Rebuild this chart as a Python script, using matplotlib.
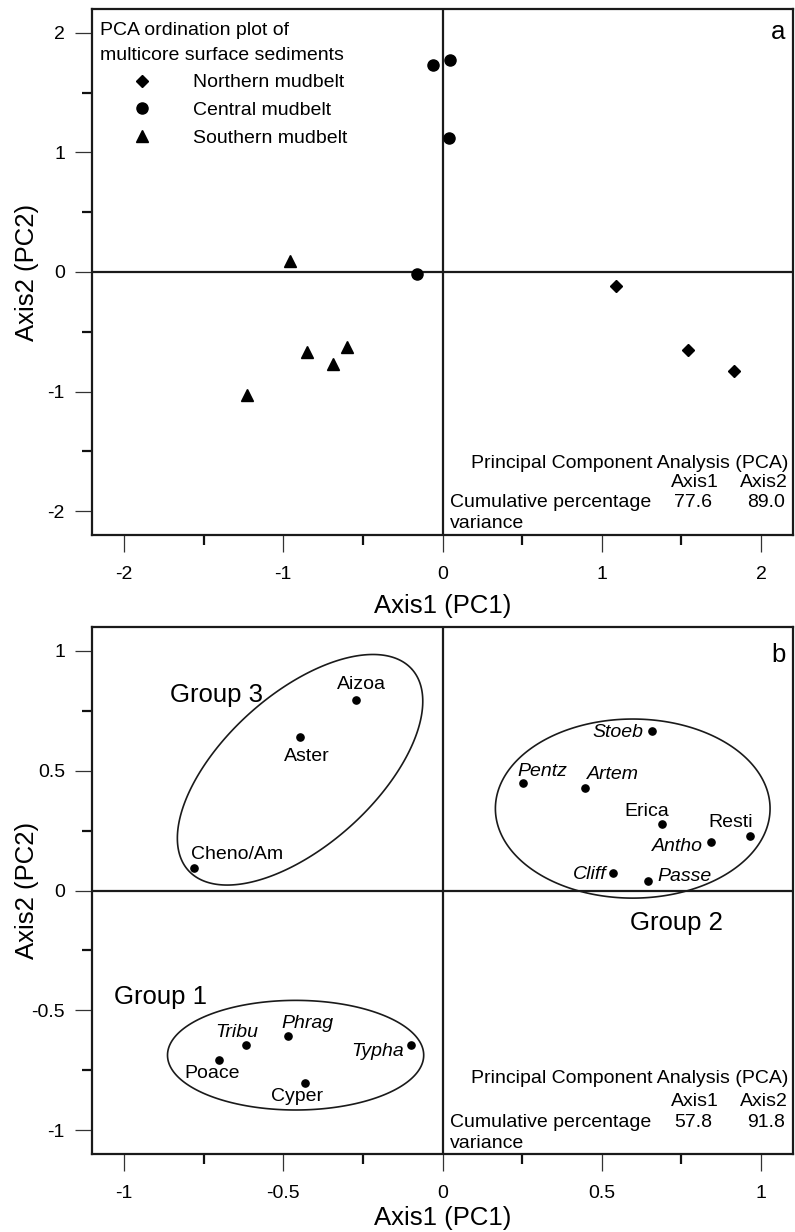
import matplotlib
matplotlib.use('Agg')
import matplotlib.pyplot as plt
import numpy as np
from matplotlib.lines import Line2D
from matplotlib.ticker import MultipleLocator, FuncFormatter
from matplotlib.patches import Polygon

plt.rcParams['font.family'] = ['Liberation Sans', 'DejaVu Sans']
plt.rcParams['axes.unicode_minus'] = False

# ---------------- Panel a data ----------------
north_x = [1.09, 1.54, 1.83]
north_y = [-0.12, -0.65, -0.83]
central_x = [-0.06, 0.05, 0.04, -0.16]
central_y = [1.73, 1.77, 1.12, -0.02]
south_x = [-0.96, -0.85, -0.69, -0.60, -1.23]
south_y = [0.09, -0.67, -0.77, -0.63, -1.03]
legend_labels = ['Northern mudbelt', 'Central mudbelt', 'Southern mudbelt']
var_a = [77.6, 89.0]

# ---------------- Panel b data ----------------
taxa = ['Aizoa', 'Aster', 'Cheno/Am', 'Stoeb', 'Pentz', 'Artem', 'Erica', 'Resti',
        'Antho', 'Cliff', 'Passe', 'Tribu', 'Phrag', 'Poace', 'Cyper', 'Typha']
taxa_x = [-0.272, -0.447, -0.78, 0.657, 0.254, 0.447, 0.69, 0.966,
          0.843, 0.535, 0.645, -0.617, -0.484, -0.70, -0.43, -0.10]
taxa_y = [0.796, 0.642, 0.096, 0.667, 0.449, 0.429, 0.279, 0.229,
          0.204, 0.075, 0.038, -0.645, -0.608, -0.708, -0.804, -0.645]
taxa_italic = [False, False, False, True, True, True, False, False,
               True, True, True, True, True, False, False, True]
var_b = [57.8, 91.8]

# group ellipses (center x, center y, semi-major, semi-minor in x-data units, screen angle deg)
groups = ['Group 1', 'Group 2', 'Group 3']
group_cx = [-0.461, 0.597, -0.447]
group_cy = [-0.6875, 0.342, 0.504]
group_a = [0.402, 0.431, 0.472]
group_b = [0.172, 0.281, 0.2375]
group_ang = [0, 0, 42]

# ---------------- styling / placement ----------------
label_style = {  # offset pixels, ha
    'Aizoa': (6, 15, 'center'), 'Aster': (7, -20, 'center'), 'Cheno/Am': (-3, 13, 'left'),
    'Stoeb': (-8, -2, 'right'), 'Pentz': (-6, 11, 'left'), 'Artem': (2, 13, 'left'),
    'Erica': (-16, 12, 'center'), 'Resti': (3, 13, 'right'), 'Antho': (-8, -5, 'right'),
    'Cliff': (-6, -2, 'right'), 'Passe': (9, 5, 'left'), 'Tribu': (-9, 13, 'center'),
    'Phrag': (19, 13, 'center'), 'Poace': (-7, -13, 'center'), 'Cyper': (-8, -13, 'center'),
    'Typha': (-7, -6, 'right'),
}
group_text_pos = {'Group 1': (-1.031, -0.446, 'left'), 'Group 2': (0.735, -0.137, 'center'),
                  'Group 3': (-0.856, 0.817, 'left')}

FS = 14
BIG = 18.5
W, H = 795, 1232
fig = plt.figure(figsize=(W / 100, H / 100), dpi=100)

def frac(l, t, r, b):
    return [l / W, 1 - b / H, (r - l) / W, (b - t) / H]

axa = fig.add_axes(frac(92, 9, 793, 535))
axb = fig.add_axes(frac(92, 627, 793, 1154))

fmt = FuncFormatter(lambda v, p: '%g' % v)

def style_axes(ax, lim, major, minor, xlabel, ylabel, xpad):
    ax.set_xlim(-lim, lim)
    ax.set_ylim(-lim, lim)
    ax.xaxis.set_major_locator(MultipleLocator(major))
    ax.yaxis.set_major_locator(MultipleLocator(major))
    ax.xaxis.set_minor_locator(MultipleLocator(minor))
    ax.yaxis.set_minor_locator(MultipleLocator(minor))
    ax.xaxis.set_major_formatter(fmt)
    ax.yaxis.set_major_formatter(fmt)
    ax.tick_params(which='major', length=12.5, width=0.9, direction='out', labelsize=FS, color='#333333')
    ax.tick_params(axis='x', which='major', pad=10)
    ax.tick_params(axis='y', which='major', pad=7)
    ax.tick_params(which='minor', length=7, width=1.6, direction='out', color='#111111')
    ax.tick_params(top=False, right=False, which='both')
    for s in ax.spines.values():
        s.set_linewidth(1.6)
        s.set_color('#1a1a1a')
    ax.axhline(0, color='#1a1a1a', lw=1.6, zorder=1)
    ax.axvline(0, color='#1a1a1a', lw=1.6, zorder=1)
    ax.set_xlabel(xlabel, fontsize=BIG, labelpad=xpad)
    ax.set_ylabel(ylabel, fontsize=BIG)
    ax.yaxis.set_label_coords(-0.076, 0.5)

def pca_block(ax, vals, ys):
    t = ax.transAxes
    ax.text(0.993, ys[0], 'Principal Component Analysis (PCA)', transform=t, ha='right', va='center', fontsize=FS)
    ax.text(0.860, ys[1], 'Axis1', transform=t, ha='center', va='center', fontsize=FS)
    ax.text(0.993, ys[1], 'Axis2', transform=t, ha='right', va='center', fontsize=FS)
    ax.text(0.511, ys[2], 'Cumulative percentage', transform=t, ha='left', va='center', fontsize=FS)
    ax.text(0.857, ys[2], '%.1f' % vals[0], transform=t, ha='center', va='center', fontsize=FS)
    ax.text(0.961, ys[2], '%.1f' % vals[1], transform=t, ha='center', va='center', fontsize=FS)
    ax.text(0.511, ys[3], 'variance', transform=t, ha='left', va='center', fontsize=FS)

# ---------------- Panel a ----------------
style_axes(axa, 2.2, 1, 0.5, 'Axis1 (PC1)', 'Axis2 (PC2)', 8)
axa.plot(north_x, north_y, ls='none', marker='D', ms=6, color='k', zorder=3)
axa.plot(central_x, central_y, ls='none', marker='o', ms=8, color='k', zorder=3)
axa.plot(south_x, south_y, ls='none', marker='^', ms=8, color='k', zorder=3)
handles = [Line2D([], [], ls='none', marker='D', ms=6, color='k'),
           Line2D([], [], ls='none', marker='o', ms=8, color='k'),
           Line2D([], [], ls='none', marker='^', ms=8, color='k')]
leg = axa.legend(handles, legend_labels, title='PCA ordination plot of\nmulticore surface sediments',
                 loc='upper left', bbox_to_anchor=(0.0114, 0.975), frameon=False, fontsize=FS,
                 title_fontsize=FS, alignment='left', handlelength=4.33, handletextpad=0.46,
                 labelspacing=0.52, borderpad=0, borderaxespad=0)
leg.get_title().set_linespacing(1.58)
axa.text(0.979, 0.956, 'a', transform=axa.transAxes, ha='center', va='center', fontsize=BIG)
pca_block(axa, var_a, [0.135, 0.099, 0.0615, 0.0218])

# ---------------- Panel b ----------------
style_axes(axb, 1.1, 0.5, 0.25, 'Axis1 (PC1)', 'Axis2 (PC2)', 2.5)
axb.plot(taxa_x, taxa_y, ls='none', marker='o', ms=5.2, color='k', zorder=3)
for name, x, y, it in zip(taxa, taxa_x, taxa_y, taxa_italic):
    dx, dy, ha = label_style[name]
    axb.annotate(name, (x, y), xytext=(dx, dy), textcoords='offset pixels', ha=ha, va='center',
                 fontsize=FS, style='italic' if it else 'normal')

# ellipse outlines in data space accounting for aspect
fig.canvas.draw()
bb = axb.bbox
sx = bb.width / 2.2
sy = bb.height / 2.2
t = np.linspace(0, 2 * np.pi, 400)
for g, cx, cy, a, b, ang in zip(groups, group_cx, group_cy, group_a, group_b, group_ang):
    th = np.deg2rad(ang)
    dx = a * np.cos(t) * np.cos(th) - b * np.sin(t) * np.sin(th)
    dy = a * np.cos(t) * np.sin(th) + b * np.sin(t) * np.cos(th)
    xs = cx + dx
    ys = cy + dy * sx / sy
    axb.add_patch(Polygon(np.column_stack([xs, ys]), closed=True, fill=False, ec='#1a1a1a', lw=1.2, zorder=2))
    gx, gy, gha = group_text_pos[g]
    axb.text(gx, gy, g, ha=gha, va='center', fontsize=BIG)

axb.text(0.979, 0.947, 'b', transform=axb.transAxes, ha='center', va='center', fontsize=BIG)
pca_block(axb, var_b, [0.144, 0.1005, 0.0595, 0.0199])

fig.savefig('out.png', dpi=100)
